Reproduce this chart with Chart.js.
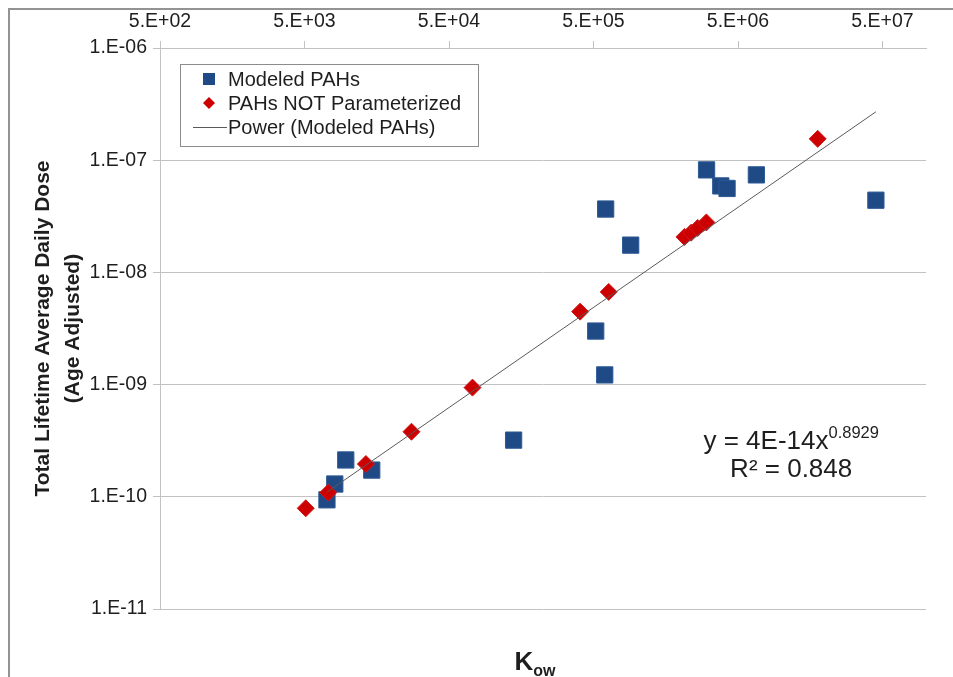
<!DOCTYPE html>
<html>
<head>
<meta charset="utf-8">
<script src="https://cdn.jsdelivr.net/npm/chart.js@4.4.1/dist/chart.umd.min.js"></script>
<style>
    html, body { margin: 0; padding: 0; background: #fff; }
    #wrap { position: relative; width: 953px; height: 677px; overflow: hidden; }
    #frame { position: absolute; left: 8px; top: 8px; right: -2px; bottom: -2px; border-top: 2px solid #939393; border-left: 2px solid #939393; pointer-events: none; }
    canvas { position: absolute; left: 0; top: 0; }
</style>
</head>
<body>
<div id="wrap">
    <canvas id="kow-chart" width="953" height="677"></canvas>
    <div id="frame"></div>
</div>
<script>
// Values
const modeledKow  = [7150, 8100, 9650, 14600, 140000, 607000, 904000, 518000, 598000, 3030000, 3800000, 4200000, 6700000, 45000000];
const modeledDose = [9.4e-11, 1.30e-10, 2.13e-10, 1.73e-10, 3.2e-10, 3.67e-8, 1.75e-8, 3.0e-9, 1.22e-9, 8.2e-8, 5.9e-8, 5.6e-8, 7.4e-8, 4.4e-8];

const notParamKow  = [5100, 7300, 13300, 27500, 72700, 404000, 637000, 2130000, 2370000, 2630000, 3020000, 17800000];
const notParamDose = [7.9e-11, 1.09e-10, 1.96e-10, 3.8e-10, 9.4e-10, 4.47e-9, 6.7e-9, 2.07e-8, 2.26e-8, 2.49e-8, 2.79e-8, 1.55e-7];

// power trendline end points (spans the Modeled PAHs x range)
const trendKow  = [7150, 45000000];
const trendDose = [1.1e-10, 2.7e-7];

const xTickValues = [5e2, 5e3, 5e4, 5e5, 5e6, 5e7];
const xTickLabels = ['5.E+02', '5.E+03', '5.E+04', '5.E+05', '5.E+06', '5.E+07'];
const yTickValues = [1e-11, 1e-10, 1e-9, 1e-8, 1e-7, 1e-6];
const yTickLabels = ['1.E-11', '1.E-10', '1.E-09', '1.E-08', '1.E-07', '1.E-06'];

const seriesNames = ['Modeled PAHs', 'PAHs NOT Parameterized', 'Power (Modeled PAHs)'];
const yTitle = ['Total Lifetime Average Daily Dose', '(Age Adjusted)'];
const eqMain = 'y = 4E-14x';
const eqExp = '0.8929';
const eqR2 = 'R\u00B2 = 0.848';

const FONT = "'Liberation Sans', Arial, sans-serif";
const BLUE = '#1F4A86';
const RED = '#CC0000';
const GRID = '#c2c2c2';
const TEXT = '#1e1e1e';

const toPoints = (xs, ys) => xs.map((x, i) => ({ x: x, y: ys[i] }));

// legend box, trendline equation and the K_ow axis title
const overlayPlugin = {
    id: 'pahOverlay',
    afterDraw(chart) {
        const ctx = chart.ctx;
        const ca = chart.chartArea;
        const ds = chart.data.datasets;
        ctx.save();

        // legend inside the plot
        const lx = ca.left + 20, ly = ca.top + 16, lw = 298, lh = 82;
        ctx.fillStyle = '#fff';
        ctx.fillRect(lx, ly, lw, lh);
        ctx.strokeStyle = '#8c8c8c';
        ctx.lineWidth = 1;
        ctx.strokeRect(lx + 0.5, ly + 0.5, lw, lh);

        const mx = lx + 29, tx = lx + 48;
        const rows = [ly + 15, ly + 39, ly + 63];
        ctx.font = '20px ' + FONT;
        ctx.textBaseline = 'middle';
        ctx.textAlign = 'left';

        ctx.fillStyle = ds[0].backgroundColor;
        ctx.fillRect(mx - 6, rows[0] - 6, 12, 12);
        ctx.fillStyle = ds[1].backgroundColor;
        ctx.beginPath();
        ctx.moveTo(mx, rows[1] - 6);
        ctx.lineTo(mx + 6, rows[1]);
        ctx.lineTo(mx, rows[1] + 6);
        ctx.lineTo(mx - 6, rows[1]);
        ctx.closePath();
        ctx.fill();
        ctx.strokeStyle = ds[2].borderColor;
        ctx.lineWidth = 1;
        ctx.beginPath();
        ctx.moveTo(lx + 13, rows[2] + 0.5);
        ctx.lineTo(lx + 47, rows[2] + 0.5);
        ctx.stroke();

        ctx.fillStyle = TEXT;
        seriesNames.forEach((n, i) => ctx.fillText(n, tx, rows[i] + 1));

        // trendline equation
        const ex = ca.left + 0.824 * (ca.right - ca.left);
        const ey = ca.top + 0.702 * (ca.bottom - ca.top);
        ctx.font = '26px ' + FONT;
        const wMain = ctx.measureText(eqMain).width;
        ctx.font = '16.5px ' + FONT;
        const wExp = ctx.measureText(eqExp).width;
        const startX = ex - (wMain + wExp) / 2;
        ctx.textAlign = 'left';
        ctx.font = '26px ' + FONT;
        ctx.fillText(eqMain, startX, ey);
        ctx.font = '16.5px ' + FONT;
        ctx.fillText(eqExp, startX + wMain, ey - 8);
        ctx.font = '26px ' + FONT;
        ctx.textAlign = 'center';
        ctx.fillText(eqR2, ex, ey + 28);

        // x axis title (K with subscript ow)
        const kx = (ca.left + ca.right) / 2 - 8;
        const ky = ca.bottom + 52;
        ctx.font = 'bold 26px ' + FONT;
        const wK = ctx.measureText('K').width;
        ctx.font = 'bold 16px ' + FONT;
        const wOw = ctx.measureText('ow').width;
        ctx.textAlign = 'left';
        ctx.textBaseline = 'alphabetic';
        ctx.font = 'bold 26px ' + FONT;
        ctx.fillText('K', kx - (wK + wOw) / 2, ky + 9);
        ctx.font = 'bold 16px ' + FONT;
        ctx.fillText('ow', kx - (wK + wOw) / 2 + wK, ky + 15);

        ctx.restore();
    }
};

new Chart(document.getElementById('kow-chart'), {
    type: 'scatter',
    data: {
        datasets: [
            {
                label: seriesNames[0],
                data: toPoints(modeledKow, modeledDose),
                pointStyle: 'rect',
                pointRadius: 11.5,
                pointHoverRadius: 11.5,
                backgroundColor: BLUE,
                borderColor: '#2d5a95',
                borderWidth: 1,
                order: 2
            },
            {
                label: seriesNames[1],
                data: toPoints(notParamKow, notParamDose),
                pointStyle: 'rectRot',
                pointRadius: 8.5,
                pointHoverRadius: 8.5,
                backgroundColor: RED,
                borderColor: '#d21a1a',
                borderWidth: 1,
                order: 1
            },
            {
                label: seriesNames[2],
                type: 'line',
                data: toPoints(trendKow, trendDose),
                borderColor: '#5a5a5a',
                borderWidth: 1,
                pointRadius: 0,
                fill: false,
                order: 0
            }
        ]
    },
    options: {
        responsive: false,
        animation: false,
        devicePixelRatio: 1,
        layout: { padding: { left: 0, right: 27, top: 0, bottom: 68 } },
        plugins: {
            legend: { display: false },
            tooltip: { enabled: false }
        },
        scales: {
            x: {
                type: 'logarithmic',
                position: 'top',
                min: 500,
                max: 1e8,
                afterBuildTicks: (scale) => { scale.ticks = xTickValues.map(v => ({ value: v })); },
                afterFit: (scale) => { scale.height = 48; },
                grid: { drawOnChartArea: false, drawTicks: true, tickLength: 7, color: GRID, tickColor: GRID },
                border: { display: true, color: GRID },
                ticks: {
                    autoSkip: false,
                    maxRotation: 0,
                    padding: 8,
                    color: TEXT,
                    font: { family: FONT, size: 19.5 },
                    callback: (v, i) => xTickLabels[i]
                }
            },
            y: {
                type: 'logarithmic',
                position: 'left',
                min: 1e-11,
                max: 1e-6,
                afterBuildTicks: (scale) => { scale.ticks = yTickValues.map(v => ({ value: v })); },
                afterFit: (scale) => { scale.width = 160; },
                grid: { color: GRID, lineWidth: 1, drawTicks: true, tickLength: 7, tickColor: GRID },
                border: { display: true, color: GRID },
                ticks: {
                    autoSkip: false,
                    padding: 6,
                    color: TEXT,
                    font: { family: FONT, size: 19.5 },
                    callback: (v, i) => yTickLabels[i]
                },
                title: {
                    display: true,
                    text: yTitle,
                    color: TEXT,
                    font: { family: FONT, size: 21, weight: 'bold', lineHeight: 1.43 },
                    padding: { top: 28, bottom: 0 }
                }
            }
        }
    },
    plugins: [overlayPlugin]
});
</script>
</body>
</html>
